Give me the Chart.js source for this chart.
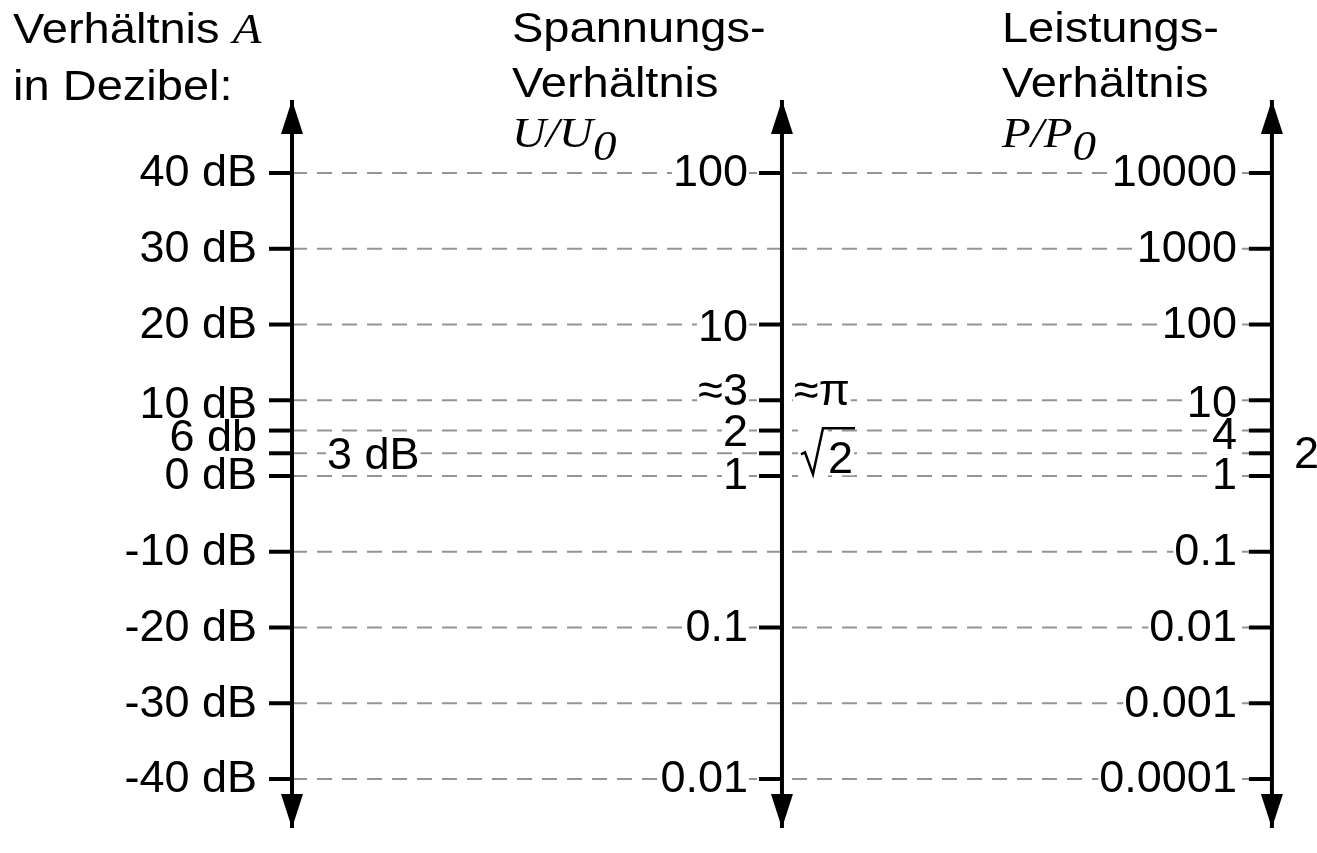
<!DOCTYPE html>
<html><head><meta charset="utf-8">
<script src="https://cdn.jsdelivr.net/npm/chart.js@4/dist/chart.umd.min.js"></script>
<style>html,body{margin:0;padding:0;background:#fff;overflow:hidden}</style>
</head><body>
<canvas id="c" width="1317" height="853"></canvas>
<script>
(function() {
"use strict";

// levels in dB, shared by all three axes
var dbLevels = [40, 30, 20, 10, 6, 3, 0, -10, -20, -30, -40];
var dbLabels = ["40 dB", "30 dB", "20 dB", "10 dB", "6 db", "", "0 dB", "-10 dB", "-20 dB", "-30 dB", "-40 dB"];
var dbSideLevels = [3];
var dbSideLabels = ["3 dB"];

// voltage ratio U/U0
var voltLevels = [40, 20, 10, 6, 3, 0, -20, -40];
var voltLabels = ["100", "10", "\u22483", "2", "", "1", "0.1", "0.01"];
var voltSideLevels = [10, 3];
var voltSideLabels = ["\u2248\u03c0", "2"];   // second one is drawn under a root sign

// power ratio P/P0
var powerLevels = [40, 30, 20, 10, 6, 3, 0, -10, -20, -30, -40];
var powerLabels = ["10000", "1000", "100", "10", "4", "", "1", "0.1", "0.01", "0.001", "0.0001"];
var powerSideLevels = [3];
var powerSideLabels = ["2"];

var axisX = [0, 1, 2];
var yMin = -46.47, yMax = 49.64;

var SANS = '"Liberation Sans", Arial, sans-serif';
var SERIF = '"Liberation Serif", "Times New Roman", serif';
var LABEL_FS = 45;

// small vertical nudges the original uses to keep crowded labels apart
var nudge = {"10 dB": 4, "6 db": 7, "10": 3, "4": 5, "2": 2};

function fontOf(o) {
  return (o.italic ? "italic " : "") + (o.size || LABEL_FS) + "px " + (o.serif ? SERIF : SANS);
}

function measure(ctx, s, o) {
  ctx.save(); ctx.font = fontOf(o); var w = ctx.measureText(s).width * (o.sx || 1); ctx.restore();
  return w;
}

function leftOf(ctx, it) {
  var w = measure(ctx, it.text, it);
  return it.align === "right" ? it.x - w : it.x;
}

function drawText(ctx, it) {
  var x0 = leftOf(ctx, it);
  ctx.save();
  ctx.font = fontOf(it);
  ctx.translate(x0, it.y);
  ctx.scale(it.sx || 1, 1);
  ctx.fillStyle = "#000";
  ctx.textAlign = "left";
  ctx.textBaseline = it.baseline || "middle";
  ctx.fillText(it.text, 0, 0);
  ctx.restore();
  return x0 + measure(ctx, it.text, it);
}

function drawBg(ctx, it) {
  var x0 = leftOf(ctx, it), w = measure(ctx, it.text, it);
  var top = it.baseline === "alphabetic" ? it.y - 33 : it.y - 17;
  ctx.fillStyle = "#fff";
  ctx.fillRect(x0 - 1, top, w + 2, 35);
}

var datasets = [];
// axis lines
axisX.forEach(function(x) {
  datasets.push({
    data: [{x: x, y: yMin}, {x: x, y: yMax}],
    showLine: true, borderColor: "#000", borderWidth: 4, pointRadius: 0, clip: false, order: 0
  });
});
// dashed level lines
dbLevels.forEach(function(v) {
  datasets.push({
    data: [{x: axisX[0], y: v}, {x: axisX[2], y: v}],
    showLine: true, borderColor: "#949494", borderWidth: 2, borderDash: [15, 10],
    pointRadius: 0, clip: false, order: 1
  });
});

var diagram = {
  id: "diagram",
  afterDatasetsDraw: function(chart) {
    var ctx = chart.ctx, xs = chart.scales.x, ys = chart.scales.y;
    var ax = axisX.map(function(v) { return xs.getPixelForValue(v); });
    var py = function(v) { return ys.getPixelForValue(v); };
    var items = [];
    var n = function(s) { return nudge[s] || 0; };

    dbLevels.forEach(function(v, i) {
      var s = dbLabels[i];
      if (s) items.push({text: s, x: ax[0] - 35, y: py(v) + 1 + n(s), align: "right"});
    });
    dbSideLevels.forEach(function(v, i) {
      items.push({text: dbSideLabels[i], x: ax[0] + 35, y: py(v) + 3, align: "left", bg: true});
    });
    voltLevels.forEach(function(v, i) {
      var s = voltLabels[i];
      if (!s) return;
      if (s.charAt(0) === "\u2248") items.push({text: s, x: ax[1] - 34, y: py(v) + 5, align: "right", baseline: "alphabetic", bg: true});
      else items.push({text: s, x: ax[1] - 34, y: py(v) + 1 + n(s), align: "right", bg: true});
    });
    powerLevels.forEach(function(v, i) {
      var s = powerLabels[i];
      if (s) items.push({text: s, x: ax[2] - 35, y: py(v) + 1 + n(s), align: "right", bg: true});
    });
    powerSideLevels.forEach(function(v, i) {
      items.push({text: powerSideLabels[i], x: ax[2] + 22, y: py(v) + 2, align: "left"});
    });

    // side labels of the voltage axis: approx. pi and root of two
    var pi = {text: voltSideLabels[0], x: ax[1] + 12, y: py(voltSideLevels[0]) + 5, align: "left", baseline: "alphabetic", bg: true};
    var rootY = py(voltSideLevels[1]);
    var two = {text: voltSideLabels[1], x: ax[1] + 46, y: rootY + 20, align: "left", baseline: "alphabetic", bg: true};
    items.push(pi, two);

    // backgrounds first, so overlapping labels stay readable
    items.forEach(function(it) { if (it.bg) drawBg(ctx, it); });
    ctx.fillStyle = "#fff";
    ctx.fillRect(ax[1] + 16, rootY - 26, 30, 50);

    // ticks
    ctx.save();
    ctx.strokeStyle = "#000";
    ctx.lineWidth = 4;
    [[dbLevels, 0], [voltLevels, 1], [powerLevels, 2]].forEach(function(p) {
      p[0].forEach(function(v) {
        var y = py(v);
        ctx.beginPath(); ctx.moveTo(ax[p[1]] - 23, y); ctx.lineTo(ax[p[1]], y); ctx.stroke();
      });
    });
    ctx.restore();

    // arrow heads
    ctx.fillStyle = "#000";
    ax.forEach(function(x) {
      var t = py(yMax), b = py(yMin);
      ctx.beginPath(); ctx.moveTo(x, t); ctx.lineTo(x + 11, t + 34); ctx.lineTo(x - 11, t + 34); ctx.closePath(); ctx.fill();
      ctx.beginPath(); ctx.moveTo(x, b); ctx.lineTo(x + 11, b - 34); ctx.lineTo(x - 11, b - 34); ctx.closePath(); ctx.fill();
    });

    items.forEach(function(it) { drawText(ctx, it); });

    // root sign with overline
    var x1 = two.x + measure(ctx, two.text, two);
    ctx.save();
    ctx.strokeStyle = "#000"; ctx.lineWidth = 2.5; ctx.lineJoin = "miter";
    ctx.beginPath();
    ctx.moveTo(ax[1] + 19, rootY + 1);
    ctx.lineTo(ax[1] + 23, rootY - 1);
    ctx.lineTo(ax[1] + 31, rootY + 21);
    ctx.lineTo(ax[1] + 41, rootY - 25);
    ctx.lineTo(x1 + 2, rootY - 25);
    ctx.stroke();
    ctx.restore();

    // titles
    var T = {size: 42, sx: 1.12, align: "left", baseline: "alphabetic"};
    var opt = function(o) { var r = {}; for (var k in T) r[k] = T[k]; for (var k2 in o) r[k2] = o[k2]; return r; };
    var e = drawText(ctx, opt({text: "Verh\u00e4ltnis ", x: ax[0] - 279, y: 43}));
    drawText(ctx, opt({text: "A", x: e, y: 43, serif: true, italic: true}));
    drawText(ctx, opt({text: "in Dezibel:", x: ax[0] - 279, y: 100}));

    [[1, "Spannungs-", "U"], [2, "Leistungs-", "P"]].forEach(function(h) {
      var x = ax[h[0]] - 270;
      drawText(ctx, opt({text: h[1], x: x, y: 42}));
      drawText(ctx, opt({text: "Verh\u00e4ltnis", x: x, y: 97}));
      var e2 = drawText(ctx, opt({text: h[2] + "/" + h[2], x: x, y: 147, serif: true, italic: true}));
      drawText(ctx, opt({text: "0", x: e2, y: 160, serif: true, italic: true}));
    });
  }
};

new Chart(document.getElementById("c").getContext("2d"), {
  type: "scatter",
  data: {datasets: datasets},
  options: {
    responsive: false,
    animation: false,
    layout: {padding: {top: 100, bottom: 25, left: 0, right: 0}},
    plugins: {legend: {display: false}, tooltip: {enabled: false}},
    scales: {
      x: {type: "linear", min: -0.596, max: 2.092, display: false},
      y: {type: "linear", min: yMin, max: yMax, display: false}
    }
  },
  plugins: [diagram]
});
})();
</script></body></html>
